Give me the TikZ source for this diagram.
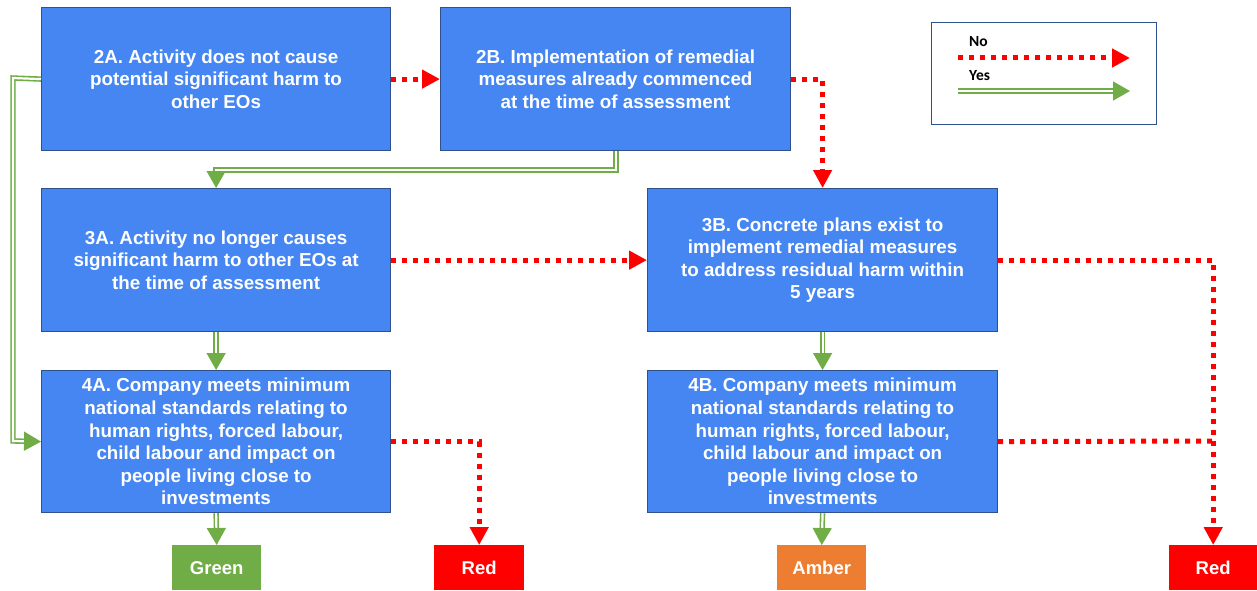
\documentclass[tikz,border=0pt]{standalone}
\usepackage{fontspec}
\setmainfont{Liberation Sans}
\newfontfamily\legfont{Carlito}
\usetikzlibrary{arrows.meta}
\definecolor{boxblue}{HTML}{4586F2}
\definecolor{boxedge}{HTML}{2F528F}
\definecolor{yesgreen}{HTML}{70AD47}
\definecolor{amber}{HTML}{ED7D31}
\definecolor{nored}{HTML}{FF0000}
\tikzset{
  stepbox/.style={draw=boxedge, line width=1.2pt, fill=boxblue, anchor=north west,
    minimum width=349pt, minimum height=143pt, inner sep=0pt, align=center,
    text=white, font=\bfseries\fontsize{18.8}{22.6}\selectfont},
  outbox/.style={anchor=north west, minimum width=89pt, minimum height=45pt, inner sep=0pt,
    text=white, font=\bfseries\fontsize{18.5}{20}\selectfont},
  noarrow/.style={draw=nored, line width=5pt, dash pattern=on 5pt off 6pt,
    -{Triangle[length=18pt,width=18pt]}},
  noline/.style={draw=nored, line width=5pt, dash pattern=on 5pt off 6pt},
  yesarrow/.style={draw=yesgreen, line width=1.6pt, double=white, double distance=2.2pt,
    -{Triangle[length=17pt,width=19pt]}},
}
\begin{document}
\begin{tikzpicture}[x=1pt,y=-1pt]
\useasboundingbox (0,0) rectangle (1257,591);
\node[stepbox] (b2a) at (41,7) {2A. Activity does not cause\\potential significant harm to\\other EOs};
\node[stepbox, minimum width=350pt] (b2b) at (440,7) {2B. Implementation of remedial\\measures already commenced\\at the time of assessment};
\node[stepbox] (b3a) at (41,188) {3A. Activity no longer causes\\significant harm to other EOs at\\the time of assessment};
\node[stepbox, minimum width=350pt] (b3b) at (647,188) {3B. Concrete plans exist to\\implement remedial measures\\to address residual harm within\\5 years};
\node[stepbox, minimum height=142pt] (b4a) at (41,370) {4A. Company meets minimum\\national standards relating to\\human rights, forced labour,\\child labour and impact on\\people living close to\\investments};
\node[stepbox, minimum width=350pt, minimum height=142pt] (b4b) at (647,370) {4B. Company meets minimum\\national standards relating to\\human rights, forced labour,\\child labour and impact on\\people living close to\\investments};
\node[outbox, fill=yesgreen] (green) at (172,545) {Green};
\node[outbox, fill=nored, minimum width=90pt] (red1) at (434,545) {Red};
\node[outbox, fill=amber] (amber) at (777,545) {Amber};
\node[outbox, fill=nored, minimum width=88pt] (red2) at (1169,545) {Red};
% legend
\node[draw=boxedge, line width=1pt, anchor=north west, minimum width=225pt, minimum height=102pt, inner sep=0pt] (legend) at (931,22) {};
\node[anchor=west, font=\legfont\bfseries\fontsize{15.5}{15}\selectfont, inner sep=0pt] (legno) at (969,42) {No};
\node[anchor=west, font=\legfont\bfseries\fontsize{15.5}{15}\selectfont, inner sep=0pt] (legyes) at (969,76) {Yes};
\coordinate (lna) at (958,58); \coordinate (lnb) at (1130,58);
\coordinate (lya) at (958,91); \coordinate (lyb) at (1130,91);
\draw[noarrow] (lna) -- (lnb);
\draw[yesarrow] (lya) -- (lyb);
% coordinates for bends
\coordinate (g1) at (616,170);
\coordinate (c4b) at (1213,441);
\coordinate (gl) at (13,78);
\coordinate (gl2) at (13,441);
% No connectors
\draw[noarrow] (b2a.east) -- (b2b.west);
\draw[noarrow] (b2b.east) -| (b3b.north);
\draw[noarrow] (b3a.east) -- (b3b.west);
\draw[noarrow] (b3b.east) -| (red2.north);
\draw[noarrow] (b4a.east) -| (red1.north);
\draw[noline] (b4b.east) -- (c4b);
% Yes connectors
\draw[yesarrow] (b2b.south -| g1) -- (g1) -| (b3a.north);
\draw[yesarrow] (b2a.west) -- (gl) -- (gl2) -- (b4a.west);
\draw[yesarrow] (b3a.south) -- (b4a.north);
\draw[yesarrow] (b3b.south) -- (b4b.north);
\draw[yesarrow] (b4a.south) -- (green.north);
\draw[yesarrow] (b4b.south) -- (amber.north);
\end{tikzpicture}
\end{document}
